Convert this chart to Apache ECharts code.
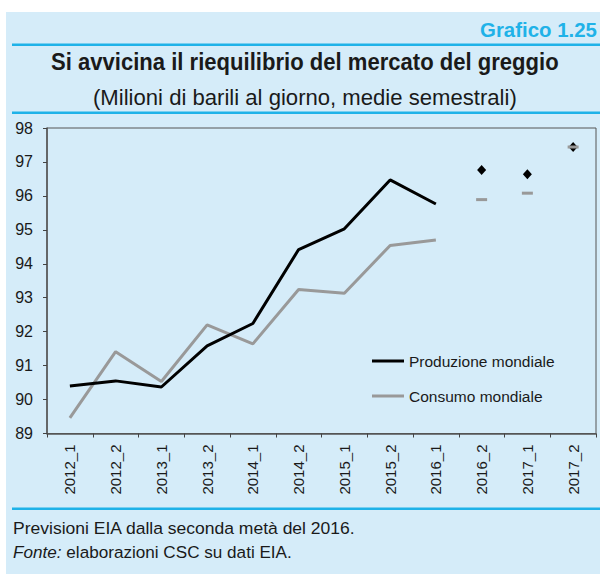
<!DOCTYPE html>
<html>
<head>
<meta charset="utf-8">
<script src="https://cdn.jsdelivr.net/npm/echarts@6/dist/echarts.min.js"></script>
<style>
  html, body { margin: 0; padding: 0; background: #ffffff; }
  #chart { width: 600px; height: 574px; }
</style>
</head>
<body>
<div id="chart"></div>
<script>
// Semesters on the category axis
const periods = ['2012_1', '2012_2', '2013_1', '2013_2', '2014_1', '2014_2',
                 '2015_1', '2015_2', '2016_1', '2016_2', '2017_1', '2017_2'];

// World oil production and consumption, million barrels per day (half-year averages)
const production  = [90.4, 90.55, 90.37, 91.58, 92.24, 94.42, 95.03, 96.47, 95.76, null, null, null];
const consumption = [89.46, 91.41, 90.53, 92.2, 91.64, 93.24, 93.13, 94.54, 94.7, null, null, null];

// EIA forecasts from the second half of 2016
const productionForecast  = [null, null, null, null, null, null, null, null, null, 96.76, 96.64, 97.44];
const consumptionForecast = [null, null, null, null, null, null, null, null, null, 95.89, 96.08, 97.44];

const yTicks = { min: 89, max: 98, step: 1 };

const SANS = "'Liberation Sans', Arial, Helvetica, sans-serif";
const CYAN = '#1fb2e8';
const PANEL = '#d5ecf9';
const GREY = '#999999';
const INK = '#1a1a1a';

// Condensed look for the heading and notes: a horizontal squeeze so each
// line spans its intended width.
const measurer = document.createElement('canvas').getContext('2d');
function textWidth(str, size, weight, style) {
  measurer.font = (style || 'normal') + ' ' + (weight || 'normal') + ' ' + size + 'px ' + SANS;
  return measurer.measureText(str).width;
}
function squeezedText(str, opts) {
  const w = textWidth(str, opts.size, opts.weight);
  const sx = opts.width / w;
  const x = opts.align === 'right' ? opts.x - opts.width
          : opts.align === 'center' ? opts.x - opts.width / 2 : opts.x;
  return {
    type: 'text', x: x, y: opts.y, scaleX: sx, z: 10,
    style: {
      text: str, x: 0, y: 0, fill: opts.color || INK,
      font: (opts.weight || 'normal') + ' ' + opts.size + 'px ' + SANS,
      align: 'left', verticalAlign: 'middle'
    }
  };
}

const sourceLead = 'Fonte:';
const sourceRest = ' elaborazioni CSC su dati EIA.';
const sourceW = textWidth(sourceLead, 17, 'normal', 'italic') + textWidth(sourceRest, 17, 'normal');

const chart = echarts.init(document.getElementById('chart'), null, { renderer: 'svg' });

chart.setOption({
  backgroundColor: '#ffffff',
  animation: false,
  graphic: [
    { type: 'rect', z: -10, shape: { x: 6, y: 12, width: 600, height: 570 }, style: { fill: PANEL } },
    { type: 'rect', z: -5, shape: { x: 12, y: 43.5, width: 588, height: 2.5 }, style: { fill: CYAN } },
    { type: 'rect', z: -5, shape: { x: 12, y: 111.5, width: 588, height: 2.5 }, style: { fill: CYAN } },
    { type: 'rect', z: -5, shape: { x: 12, y: 507.5, width: 588, height: 2.5 }, style: { fill: CYAN } },
    squeezedText('Grafico 1.25', { x: 597, y: 29, size: 21, weight: 'bold', width: 117, align: 'right', color: CYAN }),
    squeezedText('Si avvicina il riequilibrio del mercato del greggio', { x: 51, y: 62, size: 24, weight: 'bold', width: 508 }),
    squeezedText('(Milioni di barili al giorno, medie semestrali)', { x: 93, y: 97.5, size: 22, width: 424 }),
    squeezedText('Previsioni EIA dalla seconda metà del 2016.', { x: 13, y: 528.5, size: 17, width: 343 }),
    {
      type: 'text', x: 13, y: 552.5, scaleX: 279 / sourceW, z: 10,
      style: {
        text: '{i|' + sourceLead + '}' + sourceRest, x: 0, y: 0, fill: INK,
        font: 'normal 17px ' + SANS, align: 'left', verticalAlign: 'middle',
        rich: { i: { fontFamily: SANS, fontSize: 17, fontStyle: 'italic', fill: INK } }
      }
    }
  ],
  legend: {
    orient: 'vertical', left: 372, top: 352, padding: 0, itemGap: 17,
    itemWidth: 32, itemHeight: 3, icon: 'rect',
    textStyle: { fontFamily: SANS, fontSize: 15.5, lineHeight: 18, color: INK },
    data: ['Produzione mondiale', 'Consumo mondiale']
  },
  grid: {
    left: 47, right: 4, top: 128, bottom: 140.5,
    show: true, borderColor: '#555555', borderWidth: 1, backgroundColor: 'transparent'
  },
  xAxis: {
    type: 'category', data: periods, boundaryGap: true,
    axisLine: { lineStyle: { color: '#555555', width: 1.5 } },
    axisTick: { show: true, length: 4, inside: false, lineStyle: { color: '#444444' } },
    axisLabel: { rotate: 90, fontFamily: SANS, fontSize: 15, color: INK, margin: 11, interval: 0 },
    splitLine: { show: false }
  },
  yAxis: {
    type: 'value', min: yTicks.min, max: yTicks.max, interval: yTicks.step,
    axisLine: { show: true, lineStyle: { color: '#555555', width: 1.5 } },
    axisTick: { show: true, length: 4, inside: false, lineStyle: { color: '#444444' } },
    axisLabel: { fontFamily: SANS, fontSize: 16, color: INK, margin: 14 },
    splitLine: { show: false }
  },
  series: [
    {
      name: 'Produzione mondiale', type: 'line', data: production,
      symbol: 'none', lineStyle: { color: '#000000', width: 3 }, itemStyle: { color: '#000000' }, z: 3
    },
    {
      name: 'Consumo mondiale', type: 'line', data: consumption,
      symbol: 'none', lineStyle: { color: GREY, width: 3 }, itemStyle: { color: GREY }, z: 2
    },
    {
      name: 'Produzione prevista', type: 'scatter', data: productionForecast,
      symbol: 'diamond', symbolSize: [9, 10], itemStyle: { color: '#000000', opacity: 1 }, z: 4
    },
    {
      name: 'Consumo previsto', type: 'scatter', data: consumptionForecast,
      symbol: 'rect', symbolSize: [11, 3], itemStyle: { color: GREY, opacity: 1 }, z: 5
    }
  ]
});
</script>
</body>
</html>
